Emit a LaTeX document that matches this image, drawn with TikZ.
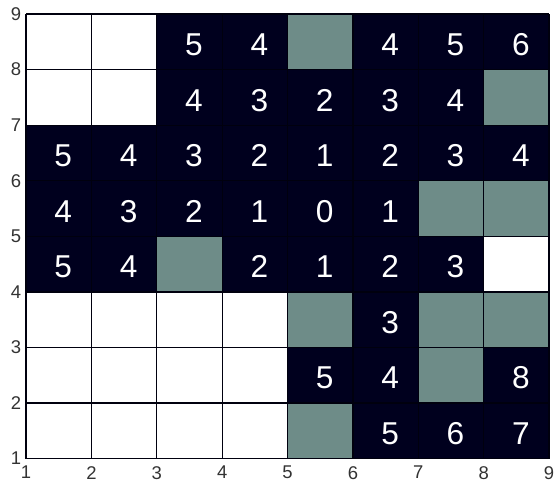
\documentclass[tikz,border=0pt]{standalone}
\usepackage{fontspec}
\setmainfont{Liberation Sans}
\definecolor{cellDark}{HTML}{00001E}
\definecolor{cellGray}{HTML}{6E8C88}
\definecolor{gridLine}{HTML}{00000E}
\definecolor{tickText}{HTML}{333333}
\tikzset{
  darkcell/.style={fill=cellDark},
  graycell/.style={fill=cellGray},
  gridln/.style={draw=gridLine, line width=0.7pt},
  val/.style={text=white, font=\fontsize{18}{18}\selectfont, inner sep=0pt},
  ticklab/.style={text=tickText, font=\fontsize{10.5}{10.5}\selectfont, inner sep=0pt}
}
\begin{document}
\begin{tikzpicture}[x=1.308cm, y=1.112cm]
\useasboundingbox[fill=white] (0.602,0.568) rectangle (9.168,9.252);
% dark cells
\foreach \c/\r in {3/8,4/8,6/8,7/8,8/8, 3/7,4/7,5/7,6/7,7/7,
  1/6,2/6,3/6,4/6,5/6,6/6,7/6,8/6, 1/5,2/5,3/5,4/5,5/5,6/5,
  1/4,2/4,4/4,5/4,6/4,7/4, 6/3, 5/2,6/2,8/2, 6/1,7/1,8/1}
  \fill[darkcell] (\c,\r) rectangle ++(1,1);
% gray cells
\foreach \c/\r in {5/8,8/7,7/5,8/5,3/4,5/3,7/3,8/3,7/2,5/1}
  \fill[graycell] (\c,\r) rectangle ++(1,1);
% grid
\foreach \i in {1,...,9} {
  \draw[gridln] (\i,1) -- (\i,9);
  \draw[gridln] (1,\i) -- (9,\i);
}
% values
\foreach \c/\r/\v in {3/8/5,4/8/4,6/8/4,7/8/5,8/8/6,
  3/7/4,4/7/3,5/7/2,6/7/3,7/7/4,
  1/6/5,2/6/4,3/6/3,4/6/2,5/6/1,6/6/2,7/6/3,8/6/4,
  1/5/4,2/5/3,3/5/2,4/5/1,5/5/0,6/5/1,
  1/4/5,2/4/4,4/4/2,5/4/1,6/4/2,7/4/3,
  6/3/3, 5/2/5,6/2/4,8/2/8, 6/1/5,7/1/6,8/1/7}
  \node[val] (v-\c-\r) at (\c+0.57,\r+0.45) {\v};
% tick labels
\foreach \i in {1,...,9} {
  \node[ticklab, anchor=east] (yl-\i) at (0.93,\i) {\i};
  \node[ticklab, anchor=north] (xl-\i) at (\i,0.87) {\i};
}
\end{tikzpicture}
\end{document}
